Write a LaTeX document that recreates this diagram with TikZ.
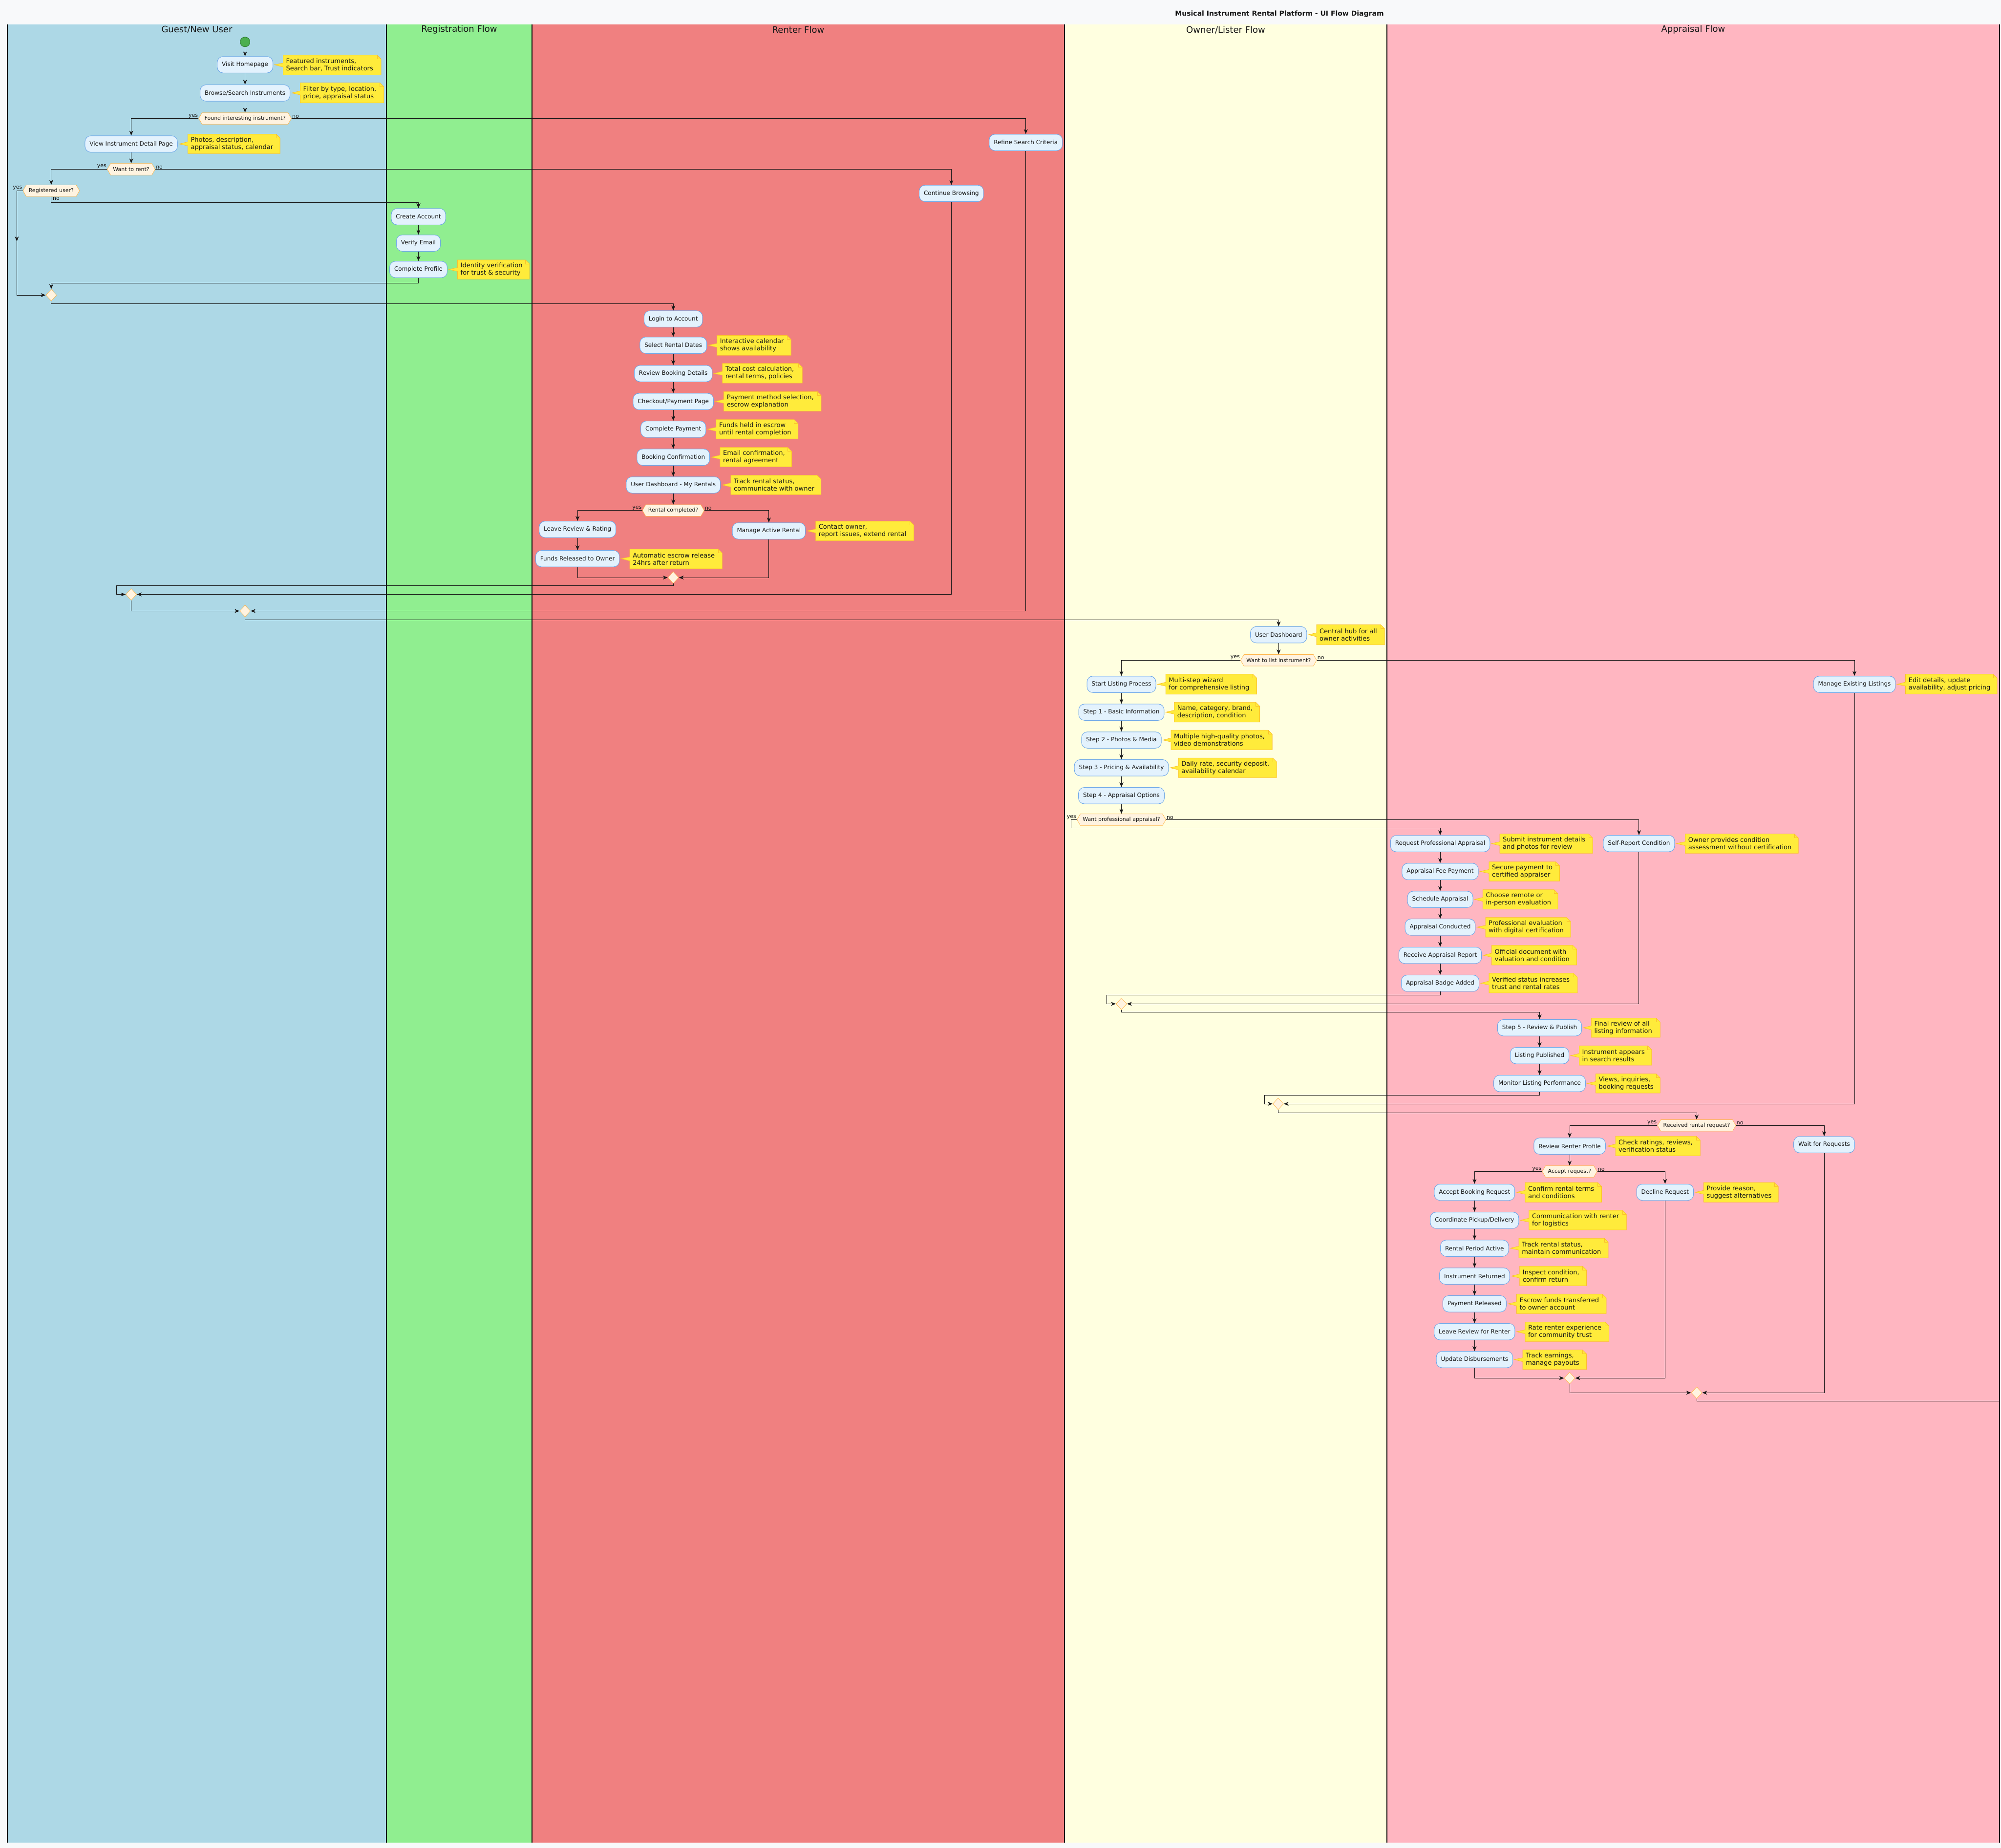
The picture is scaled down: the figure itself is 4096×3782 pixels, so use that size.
\documentclass[tikz,border=0pt]{standalone}
\usepackage{fontspec}
\setmainfont{DejaVu Sans}
\usetikzlibrary{shapes.symbols,shapes.geometric,arrows.meta}
\definecolor{bgc}{HTML}{F8F9FA}
\definecolor{laneA}{HTML}{ADD8E6}
\definecolor{laneB}{HTML}{90EE90}
\definecolor{laneC}{HTML}{F08080}
\definecolor{laneD}{HTML}{FFFFE0}
\definecolor{laneE}{HTML}{FFB6C1}
\definecolor{actfill}{HTML}{E3F2FD}
\definecolor{actline}{HTML}{6FA8E8}
\definecolor{decfill}{HTML}{FFF3E0}
\definecolor{decline}{HTML}{FFB74D}
\definecolor{notefill}{HTML}{FFEB3B}
\definecolor{noteline}{HTML}{FBC02D}
\definecolor{linec}{HTML}{181818}
\definecolor{startfill}{HTML}{4CAF50}
\definecolor{startline}{HTML}{2E7D32}
\tikzset{
 act/.style={rectangle, rounded corners=12pt, draw=actline, fill=actfill, line width=1pt, minimum height=33.5pt, inner xsep=9.5pt, inner ysep=0pt, font=\fontsize{12}{14}\selectfont, text=linec},
 dec/.style={signal, signal to=east and west, signal pointer angle=120, draw=decline, fill=decfill, line width=0.8pt, minimum height=23.5pt, inner xsep=5pt, inner ysep=0pt, font=\fontsize{11}{13}\selectfont, text=linec},
 mrg/.style={diamond, draw=decline, fill=decfill, line width=0.8pt, minimum width=22pt, minimum height=24pt, inner sep=0pt},
 arr/.style={draw=linec, line width=1pt, -{Stealth[length=10pt,width=8pt,inset=3pt]}},
 ln/.style={draw=linec, line width=1pt},
 lbl/.style={font=\fontsize{11}{13}\selectfont, inner sep=1pt, text=linec},
 notebody/.style={fill=notefill, draw=noteline, line width=0.8pt},
 notetext/.style={font=\fontsize{13}{15}\selectfont, align=left, inner sep=0pt, anchor=west, text=linec},
 lanetitle/.style={font=\fontsize{18}{22}\selectfont, text=linec},
 laneline/.style={draw=black, line width=1.5pt},
}
% name, x1, y1, x2, y2, target node, text
\newcommand\unote[7]{%
 \path[notebody] (#2,#3) -- ({#4-8},#3) -- (#4,{#3+8}) -- (#4,#5) -- (#2,#5) -- (#2,{(#3+#5)/2+4}) -- ([xshift=3pt]#6.east) -- (#2,{(#3+#5)/2-4}) -- cycle;
 \draw[noteline, line width=0.8pt] ({#4-8},#3) -- ({#4-8},{#3+8}) -- (#4,{#3+8});
 \node[notetext] (#1) at ({#2+6},{(#3+#5)/2}) {#7};
}
\begin{document}
\begin{tikzpicture}[x=1pt,y=-1pt]
\useasboundingbox (0,0) rectangle (4096,3782);
\fill[bgc] (0,0) rectangle (4096,3782);
% lanes
\fill[laneA] (15,50) rectangle (791,3771);
\fill[laneB] (791,50) rectangle (1089,3771);
\fill[laneC] (1089,50) rectangle (2179,3771);
\fill[laneD] (2179,50) rectangle (2839,3771);
\fill[laneE] (2839,50) rectangle (4093,3771);
\foreach \lx in {15,791,1089,2179,2839,4093} {\draw[laneline] (\lx,50) -- (\lx,3771);}
\node[lanetitle] (tA) at (403,61) {Guest/New User};
\node[lanetitle] (tB) at (940,61) {Registration Flow};
\node[lanetitle] (tC) at (1634,61) {Renter Flow};
\node[lanetitle] (tD) at (2509,61) {Owner/Lister Flow};
\node[lanetitle] (tE) at (3466,61) {Appraisal Flow};
\node[font=\bfseries\fontsize{14}{17}\selectfont, text=linec] (title) at (2619,28.5) {Musical Instrument Rental Platform - UI Flow Diagram};

% ---------- Guest ----------
\node[circle, fill=startfill, draw=startline, line width=1pt, minimum size=20pt, inner sep=0pt] (start) at (501.6,85.8) {};
\node[act] (visit) at (501.6,132.5) {Visit Homepage};
\node[act] (browse) at (501.6,190.3) {Browse/Search Instruments};
\node[dec] (d1) at (501.6,242.5) {Found interesting instrument?};
\node[act] (view) at (268.6,294.7) {View Instrument Detail Page};
\node[dec] (d2) at (268.6,346.4) {Want to rent?};
\node[dec] (reg) at (104.9,390.3) {Registered user?};
\node[mrg] (mg1) at (104.9,604) {};
\node[mrg] (mA) at (268.6,1216.5) {};
\node[mrg] (mB) at (501.6,1250.4) {};
% ---------- Registration ----------
\node[act] (create) at (856.5,443.5) {Create Account};
\node[act] (verify) at (856.5,497.5) {Verify Email};
\node[act] (profile) at (856.5,551.4) {Complete Profile};
% ---------- Renter ----------
\node[act] (refine) at (2099.7,291.5) {Refine Search Criteria};
\node[act] (cont) at (1947.4,395.8) {Continue Browsing};
\node[act] (login) at (1378.2,652.7) {Login to Account};
\node[act] (dates) at (1378.2,706.5) {Select Rental Dates};
\node[act] (rbd) at (1378.2,764.5) {Review Booking Details};
\node[act] (checkout) at (1378.2,821.7) {Checkout/Payment Page};
\node[act] (pay) at (1378.2,878.3) {Complete Payment};
\node[act] (confirm) at (1378.2,935.7) {Booking Confirmation};
\node[act] (mydash) at (1378.2,992.5) {User Dashboard - My Rentals};
\node[dec] (rc) at (1378.2,1044.7) {Rental completed?};
\node[act] (leave) at (1182.2,1083.3) {Leave Review \& Rating};
\node[act] (funds) at (1182.2,1143.3) {Funds Released to Owner};
\node[act] (manage) at (1573.8,1086.5) {Manage Active Rental};
\node[mrg] (m2) at (1378.2,1182) {};
% ---------- Owner ----------
\node[act] (udash) at (2617.3,1299) {User Dashboard};
\node[dec] (wl) at (2617.3,1351.3) {Want to list instrument?};
\node[act] (slp) at (2295.5,1400.5) {Start Listing Process};
\node[act] (s1) at (2295.5,1457.5) {Step 1 - Basic Information};
\node[act] (s2) at (2295.5,1514.5) {Step 2 - Photos \& Media};
\node[act] (s3) at (2295.5,1571.3) {Step 3 - Pricing \& Availability};
\node[act] (s4) at (2295.5,1628.3) {Step 4 - Appraisal Options};
\node[dec] (wpa) at (2295.5,1677.5) {Want professional appraisal?};
\node[mrg] (m3) at (2295.5,2054.4) {};
\node[mrg] (m4) at (2616.3,2259) {};
% ---------- Appraisal ----------
\node[act] (rpa) at (2948,1726.5) {Request Professional Appraisal};
\node[act] (fee) at (2948,1783.5) {Appraisal Fee Payment};
\node[act] (sched) at (2948,1840.6) {Schedule Appraisal};
\node[act] (cond) at (2948,1897.4) {Appraisal Conducted};
\node[act] (report) at (2948,1955) {Receive Appraisal Report};
\node[act] (badge) at (2948,2012.2) {Appraisal Badge Added};
\node[act] (self) at (3354.9,1726.3) {Self-Report Condition};
\node[act] (mel) at (3796,1400.5) {Manage Existing Listings};
\node[act] (s5) at (3151.5,2103.3) {Step 5 - Review \& Publish};
\node[act] (pub) at (3151.5,2160.3) {Listing Published};
\node[act] (mon) at (3151.5,2217.3) {Monitor Listing Performance};
\node[dec] (rrr) at (3473,2303.3) {Received rental request?};
\node[act] (rrp) at (3213,2345.5) {Review Renter Profile};
\node[act] (wait) at (3734,2342.5) {Wait for Requests};
\node[dec] (acc) at (3213,2397.5) {Accept request?};
\node[act] (abr) at (3018.3,2440) {Accept Booking Request};
\node[act] (decl) at (3408.3,2440) {Decline Request};
\node[act] (coord) at (3018.3,2497.3) {Coordinate Pickup/Delivery};
\node[act] (rpact) at (3018.3,2554.5) {Rental Period Active};
\node[act] (ret) at (3018.3,2611.5) {Instrument Returned};
\node[act] (prel) at (3018.3,2668.3) {Payment Released};
\node[act] (lrr) at (3018.3,2725.3) {Leave Review for Renter};
\node[act] (upd) at (3018.3,2782.3) {Update Disbursements};
\node[mrg] (m5) at (3213,2820.3) {};
\node[mrg] (m6) at (3473,2850.2) {};

% ---------- coordinates ----------
\coordinate (ryc) at (34.4,390.3);
\coordinate (rymid) at (34.4,494);
\coordinate (cA) at (238.5,1198.3);
\coordinate (cm3) at (2265.7,2036.5);
\coordinate (cm4) at (2588.1,2241.3);
\coordinate (endR) at (4093,2867.3);

% ---------- notes ----------
\unote{n1}{579.4}{112.8}{780}{153.4}{visit}{Featured instruments,\\Search bar, Trust indicators}
\unote{n2}{614.5}{169.5}{785.7}{210.6}{browse}{Filter by type, location,\\price, appraisal status}
\unote{n3}{384.4}{274.4}{573.1}{314.2}{view}{Photos, description,\\appraisal status, calendar}
\unote{n4}{936.5}{531.9}{1083.8}{571.2}{profile}{Identity verification\\for trust \& security}
\unote{n5}{1467.6}{686.6}{1619.1}{727.2}{dates}{Interactive calendar\\shows availability}
\unote{n6}{1478.8}{743.8}{1642.3}{784}{rbd}{Total cost calculation,\\rental terms, policies}
\unote{n7}{1481.6}{801.3}{1680.9}{841.5}{checkout}{Payment method selection,\\escrow explanation}
\unote{n8}{1465.8}{858.7}{1633.8}{898.3}{pay}{Funds held in escrow\\until rental completion}
\unote{n9}{1473.9}{915.7}{1620.6}{955.3}{confirm}{Email confirmation,\\rental agreement}
\unote{n10}{1495.9}{972.7}{1680.7}{1012.3}{mydash}{Track rental status,\\communicate with owner}
\unote{n11}{1289.1}{1123.7}{1478.3}{1164}{funds}{Automatic escrow release\\24hrs after return}
\unote{n12}{1669.7}{1066.7}{1870.7}{1106.7}{manage}{Contact owner,\\report issues, extend rental}
\unote{n13}{2694.9}{1278.3}{2834.2}{1319.7}{udash}{Central hub for all\\owner activities}
\unote{n14}{2386.2}{1379.7}{2572.4}{1420.7}{slp}{Multi-step wizard\\for comprehensive listing}
\unote{n15}{2403.6}{1437.3}{2578.6}{1477.7}{s1}{Name, category, brand,\\description, condition}
\unote{n16}{2396.9}{1494.3}{2604.1}{1534.3}{s2}{Multiple high-quality photos,\\video demonstrations}
\unote{n17}{2412.2}{1551.3}{2613.3}{1591.3}{s3}{Daily rate, security deposit,\\availability calendar}
\unote{n18}{3070}{1706.8}{3260.1}{1746.3}{rpa}{Submit instrument details\\and photos for review}
\unote{n19}{3047.9}{1763.7}{3192.4}{1803.1}{fee}{Secure payment to\\certified appraiser}
\unote{n20}{3035.3}{1820.7}{3188.9}{1860.5}{sched}{Choose remote or\\in-person evaluation}
\unote{n21}{3040.9}{1877.7}{3214.9}{1917.9}{cond}{Professional evaluation\\with digital certification}
\unote{n22}{3053.5}{1934.7}{3227.5}{1974.9}{report}{Official document with\\valuation and condition}
\unote{n23}{3047.9}{1991.8}{3228.9}{2031.9}{badge}{Verified status increases\\trust and rental rates}
\unote{n24}{3449.6}{1706.8}{3681.1}{1746.3}{self}{Owner provides condition\\assessment without certification}
\unote{n25}{3900.6}{1379.6}{4088}{1420.2}{mel}{Edit details, update\\availability, adjust pricing}
\unote{n26}{3257.3}{2083.7}{3398.3}{2123}{s5}{Final review of all\\listing information}
\unote{n27}{3232.4}{2140.3}{3380.8}{2180}{pub}{Instrument appears\\in search results}
\unote{n28}{3266.4}{2197.7}{3398.3}{2237}{mon}{Views, inquiries,\\booking requests}
\unote{n29}{3307}{2325.3}{3480.3}{2365.3}{rrp}{Check ratings, reviews,\\verification status}
\unote{n30}{3121.9}{2420}{3278.5}{2460.3}{abr}{Confirm rental terms\\and conditions}
\unote{n31}{3487.5}{2420}{3640.1}{2460.3}{decl}{Provide reason,\\suggest alternatives}
\unote{n32}{3129.8}{2477}{3329.3}{2517}{coord}{Communication with renter\\for logistics}
\unote{n33}{3109.1}{2534.3}{3292}{2574.3}{rpact}{Track rental status,\\maintain communication}
\unote{n34}{3110.7}{2591.3}{3247.5}{2631.3}{ret}{Inspect condition,\\confirm return}
\unote{n35}{3104.4}{2648.3}{3288}{2688.3}{prel}{Escrow funds transferred\\to owner account}
\unote{n36}{3121.9}{2705.7}{3293.6}{2745.3}{lrr}{Rate renter experience\\for community trust}
\unote{n37}{3117.1}{2762.7}{3247.5}{2802.7}{upd}{Track earnings,\\manage payouts}

% ---------- connectors: guest / registration ----------
\draw[arr] (start.south) -- (visit.north);
\draw[arr] (visit.south) -- (browse.north);
\draw[arr] (browse.south) -- (d1.north);
\draw[arr] (d1.west) -| (view.north);
\draw[arr] (d1.east) -| (refine.north);
\draw[arr] (view.south) -- (d2.north);
\draw[arr] (d2.west) -| (reg.north);
\draw[arr] (d2.east) -| (cont.north);
\draw[ln] (reg.west) -- (ryc);
\draw[arr] (ryc) -- (rymid);
\draw[arr] (rymid) |- (mg1.west);
\draw[arr] (reg.south) -- ++(0,11.8) -| (create.north);
\draw[arr] (create.south) -- (verify.north);
\draw[arr] (verify.south) -- (profile.north);
\draw[arr] (profile.south) -- ++(0,10.7) -| (mg1.north);
\draw[arr] (mg1.south) -- ++(0,4.6) -| (login.north);
% ---------- renter ----------
\draw[arr] (login.south) -- (dates.north);
\draw[arr] (dates.south) -- (rbd.north);
\draw[arr] (rbd.south) -- (checkout.north);
\draw[arr] (checkout.south) -- (pay.north);
\draw[arr] (pay.south) -- (confirm.north);
\draw[arr] (confirm.south) -- (mydash.north);
\draw[arr] (mydash.south) -- (rc.north);
\draw[arr] (rc.west) -| (leave.north);
\draw[arr] (rc.east) -| (manage.north);
\draw[arr] (leave.south) -- (funds.north);
\draw[arr] (funds.south) |- (m2.west);
\draw[arr] (manage.south) |- (m2.east);
\draw[arr] (m2.south) |- (cA) |- (mA.west);
\draw[arr] (cont.south) |- (mA.east);
\draw[arr] (mA.south) |- (mB.west);
\draw[arr] (refine.south) |- (mB.east);
\draw[arr] (mB.south) -- ++(0,5.4) -| (udash.north);
% ---------- owner ----------
\draw[arr] (udash.south) -- (wl.north);
\draw[arr] (wl.west) -| (slp.north);
\draw[arr] (wl.east) -| (mel.north);
\draw[arr] (slp.south) -- (s1.north);
\draw[arr] (s1.south) -- (s2.north);
\draw[arr] (s2.south) -- (s3.north);
\draw[arr] (s3.south) -- (s4.north);
\draw[arr] (s4.south) -- (wpa.north);
\draw[arr] (wpa.west) -- ++(-11.8,0) -- ++(0,16.8) -| (rpa.north);
\draw[arr] (wpa.east) -| (self.north);
\draw[arr] (rpa.south) -- (fee.north);
\draw[arr] (fee.south) -- (sched.north);
\draw[arr] (sched.south) -- (cond.north);
\draw[arr] (cond.south) -- (report.north);
\draw[arr] (report.south) -- (badge.north);
\draw[arr] (badge.south) |- (cm3) |- (m3.west);
\draw[arr] (self.south) |- (m3.east);
\draw[arr] (m3.south) -- ++(0,5) -| (s5.north);
\draw[arr] (s5.south) -- (pub.north);
\draw[arr] (pub.south) -- (mon.north);
\draw[arr] (mon.south) |- (cm4) |- (m4.west);
\draw[arr] (mel.south) |- (m4.east);
\draw[arr] (m4.south) -- ++(0,5.6) -| (rrr.north);
\draw[arr] (rrr.west) -| (rrp.north);
\draw[arr] (rrr.east) -| (wait.north);
\draw[arr] (rrp.south) -- (acc.north);
\draw[arr] (acc.west) -| (abr.north);
\draw[arr] (acc.east) -| (decl.north);
\draw[arr] (abr.south) -- (coord.north);
\draw[arr] (coord.south) -- (rpact.north);
\draw[arr] (rpact.south) -- (ret.north);
\draw[arr] (ret.south) -- (prel.north);
\draw[arr] (prel.south) -- (lrr.north);
\draw[arr] (lrr.south) -- (upd.north);
\draw[arr] (upd.south) |- (m5.west);
\draw[arr] (decl.south) |- (m5.east);
\draw[arr] (m5.south) |- (m6.west);
\draw[arr] (wait.south) |- (m6.east);
\draw[ln] (m6.south) |- (endR);

% ---------- branch labels ----------
\node[lbl, anchor=south east] (l1y) at (d1.west) {yes};
\node[lbl, anchor=south west] (l1n) at (d1.east) {no};
\node[lbl, anchor=south east] (l2y) at (d2.west) {yes};
\node[lbl, anchor=south west] (l2n) at (d2.east) {no};
\node[lbl, anchor=south east] (l3y) at (reg.west) {yes};
\node[lbl, anchor=north west, xshift=2pt] (l3n) at (reg.south) {no};
\node[lbl, anchor=south east] (l4y) at (rc.west) {yes};
\node[lbl, anchor=south west] (l4n) at (rc.east) {no};
\node[lbl, anchor=south east] (l5y) at (wl.west) {yes};
\node[lbl, anchor=south west] (l5n) at (wl.east) {no};
\node[lbl, anchor=south east] (l6y) at (wpa.west) {yes};
\node[lbl, anchor=south west] (l6n) at (wpa.east) {no};
\node[lbl, anchor=south east] (l7y) at (rrr.west) {yes};
\node[lbl, anchor=south west] (l7n) at (rrr.east) {no};
\node[lbl, anchor=south east] (l8y) at (acc.west) {yes};
\node[lbl, anchor=south west] (l8n) at (acc.east) {no};
\end{tikzpicture}
\end{document}
